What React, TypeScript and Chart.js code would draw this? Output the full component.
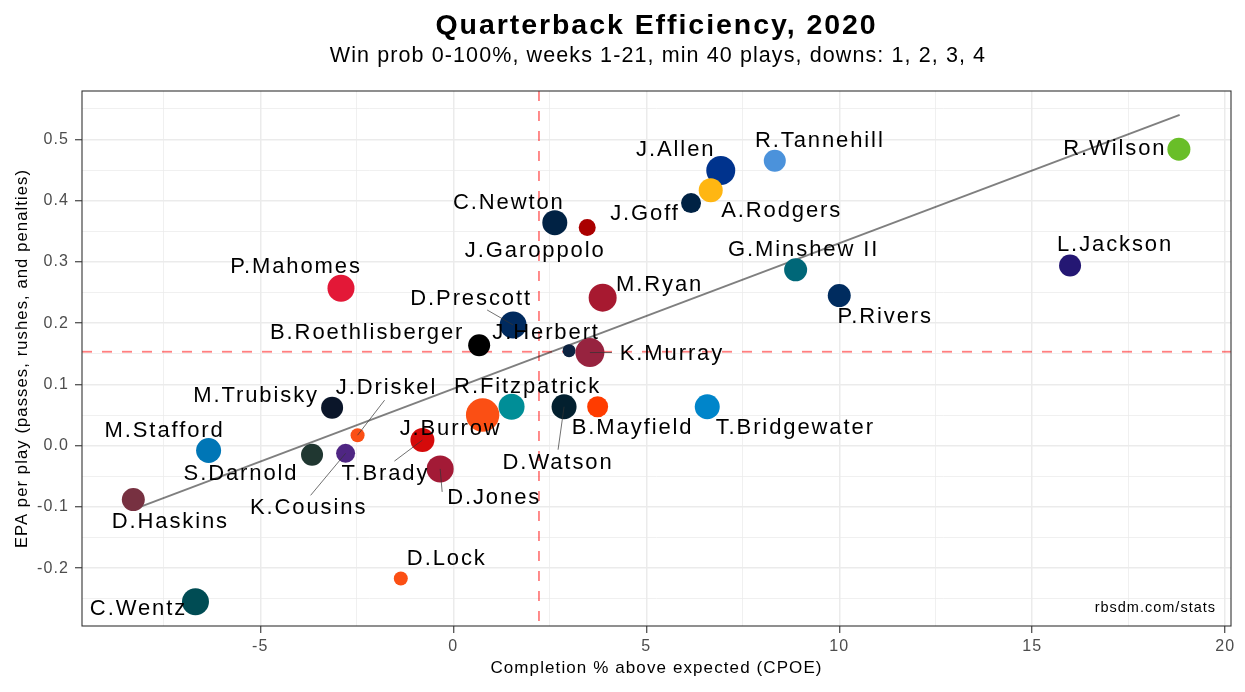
import React, { useEffect, useRef } from "react";
import { Chart, registerables } from "chart.js";

Chart.register(...registerables);

// ---------- data ----------
const players = [
  "R.Wilson", "L.Jackson", "R.Tannehill", "J.Allen", "A.Rodgers", "J.Goff",
  "C.Newton", "J.Garoppolo", "G.Minshew II", "P.Rivers", "M.Ryan", "D.Prescott",
  "J.Herbert", "K.Murray", "B.Roethlisberger", "P.Mahomes", "R.Fitzpatrick",
  "J.Burrow", "T.Brady", "D.Jones", "D.Watson", "B.Mayfield", "T.Bridgewater",
  "M.Trubisky", "J.Driskel", "S.Darnold", "K.Cousins", "M.Stafford", "D.Haskins",
  "D.Lock", "C.Wentz",
];
const cpoe = [
  18.8, 15.98, 8.33, 6.93, 6.67, 6.16,
  2.63, 3.47, 8.87, 10.0, 3.87, 1.55,
  3.0, 3.54, 0.67, -2.91, 1.51,
  0.76, -0.8, -0.34, 2.87, 3.74, 6.58,
  -3.14, -2.48, -3.66, -2.79, -6.34, -8.29,
  -1.36, -6.68,
];
const epa = [
  0.484, 0.294, 0.465, 0.449, 0.417, 0.396,
  0.364, 0.356, 0.287, 0.245, 0.2415, 0.197,
  0.155, 0.152, 0.164, 0.257, 0.0635,
  0.05, 0.009, -0.038, 0.0635, 0.0635, 0.0635,
  0.062, 0.017, -0.015, -0.0126, -0.008, -0.088,
  -0.217, -0.255,
];
const plays = [
  270, 247, 247, 429, 294, 204,
  319, 147, 270, 270, 400, 372,
  86, 429, 247, 372, 345,
  569, 294, 372, 319, 225, 319,
  247, 100, 247, 184, 319, 270,
  100, 372,
];
const teamColors = [
  "#69BE28", "#241773", "#4B92DB", "#00338D", "#FFB612", "#002244",
  "#002244", "#AA0000", "#006778", "#002C5F", "#A71930", "#002A5E",
  "#0C2340", "#97233F", "#000000", "#E31837", "#008E97",
  "#FB4F14", "#D50A0A", "#A31A36", "#03202F", "#FF3C00", "#0085CA",
  "#0B162A", "#FB4F14", "#203731", "#4F2683", "#0076B6", "#773141",
  "#FB4F14", "#004C54",
];
const fitCpoe = [-8.2, 18.82];
const fitEpa = [-0.102, 0.54];
const meanCpoe = 2.22;
const meanEpa = 0.1533;
const xRange = [-9.62, 20.15];
const yRange = [-0.2945, 0.579];

const titleText = "Quarterback Efficiency, 2020";
const subtitleText = "Win prob 0-100%, weeks 1-21, min 40 plays, downs: 1, 2, 3, 4";
const xTitle = "Completion % above expected (CPOE)";
const yTitle = "EPA per play (passes, rushes, and penalties)";
const captionText = "rbsdm.com/stats";

// ---------- label layout (pixel offsets from point, like ggrepel output) ----------
const labelOffsets: [number, number][] = [
  [-64, 0], [45, -21], [45, -20], [-45, -21], [71, 21], [-46, 11],
  [-46, -20], [-52, 23], [8, -20], [46, 21], [57, -13], [-42, -26],
  [-23, -18], [82, 1], [-112, -12], [-45, -21], [16, -20],
  [-32, 14], [-37, 34], [54, 29], [-6, 56], [35, 21], [88, 21],
  [-76, -12], [29, -47], [-71, 19], [-37, 55], [-44, -20], [37, 22],
  [46, -20], [-57, 7],
];
const leaderEnds: ([number, number] | null)[] = players.map(() => null);
leaderEnds[11] = [-26, -15];
leaderEnds[13] = [22, 0];
leaderEnds[18] = [-28, 21];
leaderEnds[19] = [2, 23];
leaderEnds[20] = [-6, 43];
leaderEnds[24] = [27, -35];
leaderEnds[26] = [-35, 42];

const FONT = '"Liberation Sans", Arial, Helvetica, sans-serif';

const isMajor = (v: number, step: number) => {
  const r = v / step;
  return Math.abs(r - Math.round(r)) < 1e-6;
};

const overlayPlugin = {
  id: "overlay",
  beforeDraw(chart: any) {
    chart.ctx.letterSpacing = "1.1px";
  },
  beforeDatasetsDraw(chart: any) {
    const { ctx, chartArea: a, scales } = chart;
    ctx.save();
    ctx.beginPath();
    ctx.rect(a.left, a.top, a.right - a.left, a.bottom - a.top);
    ctx.clip();
    ctx.strokeStyle = "rgba(255,0,0,0.5)";
    ctx.lineWidth = 1.8;
    ctx.setLineDash([10, 10]);
    const vx = scales.x.getPixelForValue(meanCpoe);
    ctx.beginPath();
    ctx.moveTo(vx, a.top);
    ctx.lineTo(vx, a.bottom);
    ctx.stroke();
    const hy = scales.y.getPixelForValue(meanEpa);
    ctx.beginPath();
    ctx.moveTo(a.left, hy);
    ctx.lineTo(a.right, hy);
    ctx.stroke();
    ctx.restore();
  },
  afterDatasetsDraw(chart: any) {
    const { ctx, chartArea: a } = chart;
    const meta = chart.getDatasetMeta(0);
    ctx.save();
    // leader segments
    ctx.strokeStyle = "#333333";
    ctx.lineWidth = 0.7;
    players.forEach((_, i) => {
      const le = leaderEnds[i];
      if (!le) return;
      const el = meta.data[i];
      ctx.beginPath();
      ctx.moveTo(el.x, el.y);
      ctx.lineTo(el.x + le[0], el.y + le[1]);
      ctx.stroke();
    });
    // labels
    ctx.font = `22px ${FONT}`;
    ctx.letterSpacing = "1.9px";
    ctx.fillStyle = "#000000";
    ctx.textAlign = "center";
    ctx.textBaseline = "middle";
    players.forEach((name, i) => {
      const el = meta.data[i];
      const [dx, dy] = labelOffsets[i];
      ctx.fillText(name, el.x + dx, el.y + dy);
    });
    // caption
    ctx.font = `14.5px ${FONT}`;
    ctx.letterSpacing = "1px";
    ctx.textAlign = "right";
    ctx.fillText(captionText, a.right - 15, a.bottom - 18);
    // panel border
    ctx.letterSpacing = "0px";
    ctx.strokeStyle = "#333333";
    ctx.lineWidth = 1.1;
    ctx.strokeRect(a.left, a.top, a.right - a.left, a.bottom - a.top);
    ctx.restore();
  },
  afterDraw(chart: any) {
    const { ctx, chartArea: a } = chart;
    const cx = (a.left + a.right) / 2;
    ctx.save();
    ctx.fillStyle = "#000000";
    ctx.textAlign = "center";
    ctx.textBaseline = "middle";
    ctx.font = `bold 28.5px ${FONT}`;
    ctx.letterSpacing = "1.95px";
    ctx.fillText(titleText, cx, 26.5);
    ctx.font = `21.5px ${FONT}`;
    ctx.letterSpacing = "1.1px";
    ctx.fillText(subtitleText, cx + 1.5, 56);
    ctx.restore();
  },
};

export default function App() {
  const canvasRef = useRef<HTMLCanvasElement | null>(null);

  useEffect(() => {
    const canvas = canvasRef.current;
    if (!canvas) return;
    Chart.defaults.font.family = FONT;

    const points = cpoe.map((x, i) => ({ x, y: epa[i] }));
    const radii = plays.map((p) => 0.7 * Math.sqrt(p));
    const fitData = fitCpoe.map((x, i) => ({ x, y: fitEpa[i] }));

    const chart = new Chart(canvas, {
      type: "scatter",
      data: {
        datasets: [
          {
            label: "QBs",
            data: points,
            backgroundColor: teamColors,
            borderWidth: 0,
            pointRadius: radii,
            pointHoverRadius: radii,
            order: 0,
          } as any,
          {
            type: "line",
            label: "fit",
            data: fitData,
            borderColor: "rgba(0,0,0,0.5)",
            borderWidth: 2,
            pointRadius: 0,
            showLine: true,
            fill: false,
            order: 1,
          } as any,
        ],
      },
      options: {
        responsive: false,
        animation: false,
        events: [],
        layout: { autoPadding: false, padding: { top: 91, right: 14, left: 0, bottom: 0 } },
        plugins: {
          legend: { display: false },
          tooltip: { enabled: false },
          title: { display: false },
        },
        scales: {
          x: {
            type: "linear",
            min: xRange[0],
            max: xRange[1],
            afterFit: (s: any) => {
              s.height = 66;
              s.paddingLeft = 0;
              s.paddingRight = 0;
            },
            border: { display: false },
            grid: {
              color: "#EBEBEB",
              lineWidth: (c: any) => (c.tick && isMajor(c.tick.value, 5) ? 1.5 : 0.75),
              tickColor: (c: any) => (c.tick && isMajor(c.tick.value, 5) ? "#333333" : "rgba(0,0,0,0)"),
              tickLength: 7,
              tickWidth: 1.1,
            },
            ticks: {
              stepSize: 2.5,
              includeBounds: false,
              autoSkip: false,
              maxRotation: 0,
              padding: 3.5,
              color: "#4D4D4D",
              font: { size: 16 },
              callback: (v: any) => (isMajor(Number(v), 5) ? String(Math.round(Number(v))) : ""),
            },
            title: {
              display: true,
              text: xTitle,
              color: "#000000",
              font: { size: 17 },
              padding: { top: 13, bottom: 13 },
            },
          },
          y: {
            type: "linear",
            min: yRange[0],
            max: yRange[1],
            afterFit: (s: any) => {
              s.width = 82;
              s.paddingTop = 0;
              s.paddingBottom = 0;
            },
            border: { display: false },
            grid: {
              color: "#EBEBEB",
              lineWidth: (c: any) => (c.tick && isMajor(c.tick.value, 0.1) ? 1.5 : 0.75),
              tickColor: (c: any) => (c.tick && isMajor(c.tick.value, 0.1) ? "#333333" : "rgba(0,0,0,0)"),
              tickLength: 7,
              tickWidth: 1.1,
            },
            ticks: {
              stepSize: 0.05,
              includeBounds: false,
              autoSkip: false,
              padding: 6,
              color: "#4D4D4D",
              font: { size: 16 },
              callback: (v: any) => {
                const n = Number(v);
                if (!isMajor(n, 0.1)) return "";
                return Math.abs(n) < 1e-9 ? "0.0" : n.toFixed(1);
              },
            },
            title: {
              display: true,
              text: yTitle,
              color: "#000000",
              font: { size: 16.6 },
              padding: { top: 12, bottom: 12 },
            },
          },
        },
      },
      plugins: [overlayPlugin],
    });

    return () => chart.destroy();
  }, []);

  return (
    <div style={{ position: "fixed", left: 0, top: 0, width: 1245, height: 692, background: "#ffffff" }}>
      <canvas ref={canvasRef} width={1245} height={692} style={{ width: 1245, height: 692, display: "block" }} />
    </div>
  );
}
